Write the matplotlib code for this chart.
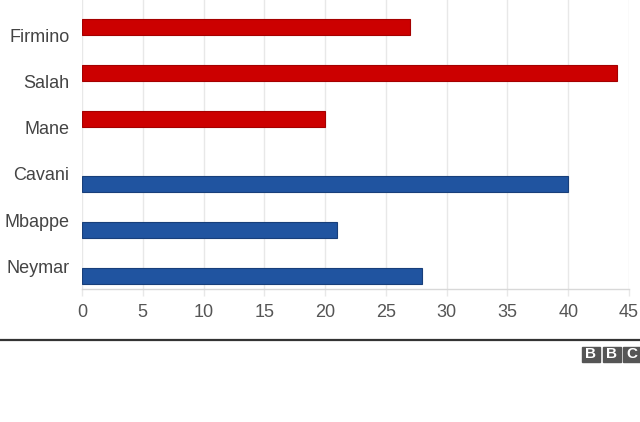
import matplotlib
matplotlib.use("Agg")
import matplotlib.pyplot as plt
from matplotlib.patches import Rectangle

players = ["Firmino", "Salah", "Mane", "Cavani", "Mbappe", "Neymar"]
liverpool_goals = [27, 44, 20, 0, 0, 0]
psg_goals = [0, 0, 0, 40, 21, 28]
x_ticks = [0, 5, 10, 15, 20, 25, 30, 35, 40, 45]

plt.rcParams['font.family'] = ['Liberation Sans', 'DejaVu Sans']

fig = plt.figure(figsize=(6.4, 4.22), dpi=100)
ax = fig.add_axes([82/640, 133/422, 547/640, 289/422])

idx = list(range(len(players)))
h = 0.345
ax.barh([i - 0.18 for i in idx], liverpool_goals, height=h,
        color="#cc0000",
        edgecolor=["#a40000" if v else "none" for v in liverpool_goals],
        linewidth=0.8, zorder=3)
ax.barh([i + 0.21 for i in idx], psg_goals, height=h,
        color="#2054a0",
        edgecolor=["#183f7a" if v else "none" for v in psg_goals],
        linewidth=0.8, zorder=3)

ax.set_xlim(0, 45)
ax.set_ylim(5.49, -0.76)
ax.set_xticks(x_ticks)
ax.set_xticklabels([str(t) for t in x_ticks])
ax.set_yticks(idx)
ax.set_yticklabels(players)

ax.grid(axis="x", color="#e8e8e8", linewidth=1, zorder=0)
ax.tick_params(axis="x", length=5, width=1, color="#e8e8e8", pad=6,
               labelsize=13, labelcolor="#555555")
ax.tick_params(axis="y", length=0, pad=9, labelsize=13, labelcolor="#444444")
for s in ["top", "right", "left"]:
    ax.spines[s].set_visible(False)
ax.spines["bottom"].set_color("#d8d8d8")
ax.spines["bottom"].set_linewidth(1)

# horizontal rule
fig.add_artist(plt.Line2D([0, 1], [1 - 340/422, 1 - 340/422],
                          transform=fig.transFigure, color="#333333", linewidth=1.6))

# BBC logo
for k, letter in enumerate("BBC"):
    x0 = 582 + k * 20.5
    fig.add_artist(Rectangle((x0/640, 1 - 362/422), 18/640, 15/422,
                             transform=fig.transFigure, color="#555555"))
    fig.text((x0 + 9)/640, 1 - 354.5/422, letter, color="white",
             fontsize=11, fontweight="bold", ha="center", va="center")

fig.savefig("out.png", dpi=100)
